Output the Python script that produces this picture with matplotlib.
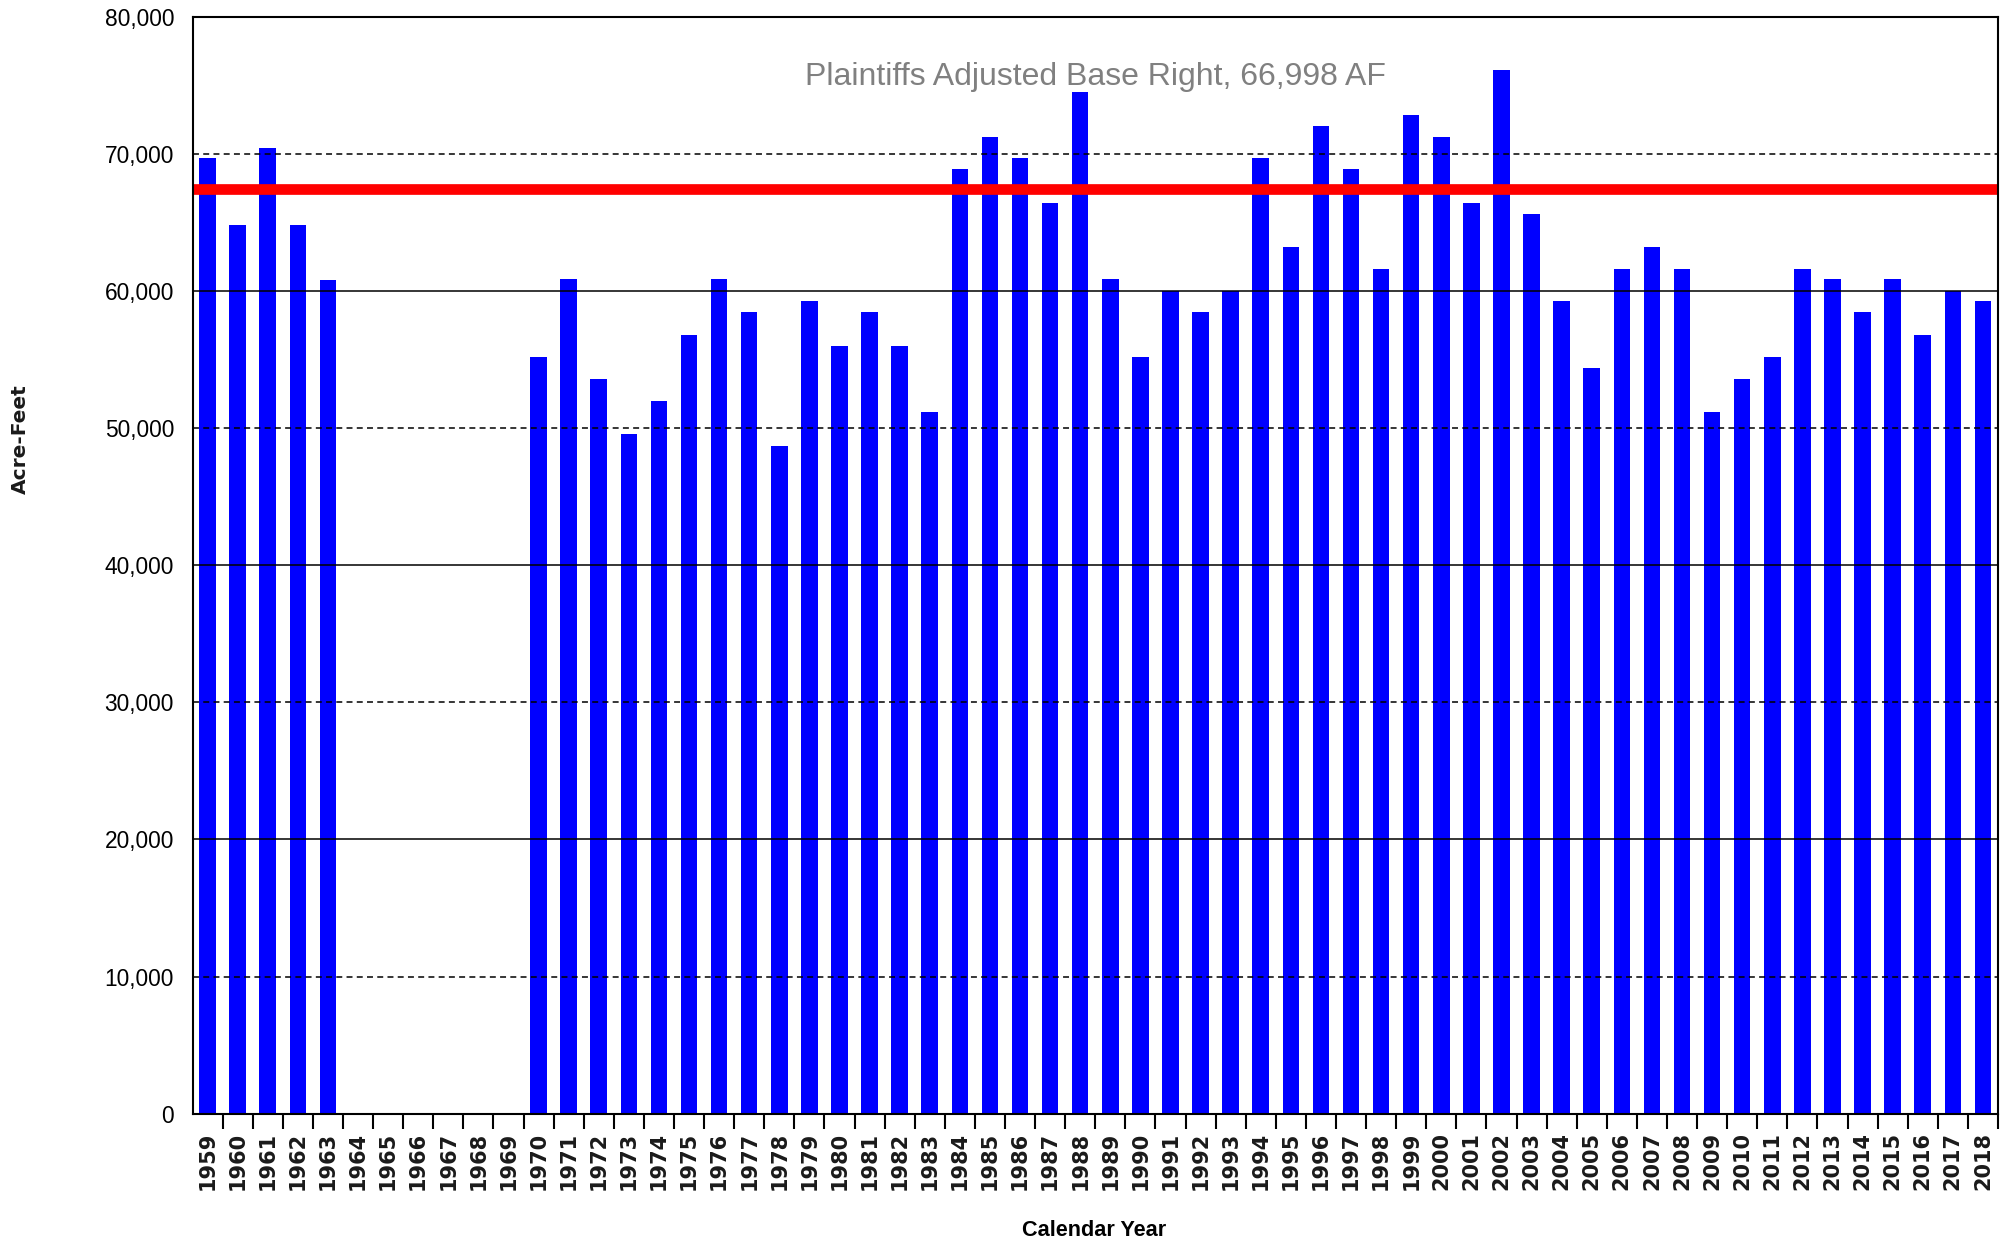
import numpy as np
import matplotlib
matplotlib.use('Agg')
import matplotlib.pyplot as plt
from matplotlib.ticker import FuncFormatter, FixedLocator
import matplotlib.transforms as mtransforms

# ---------------- data ----------------
years = list(range(1959, 2019))
acre_feet = [69700, 64800, 70400, 64800, 60800,
             None, None, None, None, None, None,
             55200, 60900, 53600, 49600, 52000, 56800, 60900, 58500, 48700, 59300,
             56000, 58500, 56000, 51200, 68900, 71200, 69700, 66400, 74500, 60900,
             55200, 60000, 58500, 60000, 69700, 63200, 72000, 68900, 61600, 72800,
             71200, 66400, 76100, 65600, 59300, 54400, 61600, 63200, 61600, 51200,
             53600, 55200, 61600, 60900, 58500, 60900, 56800, 60000, 59300]
base_right_level = 67400
base_right_label = "Plaintiffs Adjusted Base Right, 66,998 AF"
y_ticks = [0, 10000, 20000, 30000, 40000, 50000, 60000, 70000, 80000]
solid_grid = [20000, 40000, 60000]
dashed_grid = [10000, 30000, 50000, 70000]
x_label = "Calendar Year"
y_label = "Acre-Feet"

# ---------------- figure ----------------
W, H = 2012, 1243
fig = plt.figure(figsize=(W / 100, H / 100), dpi=100)
left, right, top, bottom = 192.5, 1998, 16.7, 1113.7
ax = fig.add_axes([left / W, 1 - bottom / H, (right - left) / W, (bottom - top) / H])

x = np.arange(len(years))
vals = np.array([np.nan if v is None else v for v in acre_feet], dtype=float)
mask = ~np.isnan(vals)
ax.bar(x[mask], vals[mask], width=0.55, color='#0000FF', zorder=2, linewidth=0)

for lvl in solid_grid:
    ax.axhline(lvl, color='black', linewidth=1.1, zorder=3)
for lvl in dashed_grid:
    ax.axhline(lvl, color='black', linewidth=1.1, linestyle=(0, (3.9, 2.8)), zorder=3)

ax.axhline(base_right_level, color='#FF0000', linewidth=7.7, zorder=4)

trans = mtransforms.blended_transform_factory(ax.transAxes, ax.transData)
ax.text(0.5, 75000, base_right_label, transform=trans, ha='center', va='baseline',
        fontsize=23, color='#808080', family=['Liberation Sans', 'DejaVu Sans'], zorder=5)

ax.set_xlim(-0.5, len(years) - 0.5)
ax.set_ylim(y_ticks[0], y_ticks[-1])

ax.yaxis.set_major_locator(FixedLocator(y_ticks))
ax.yaxis.set_major_formatter(FuncFormatter(lambda v, p: f"{v:,.0f}"))
ax.tick_params(axis='y', length=0, pad=13.3, labelsize=16.4)
for lab in ax.get_yticklabels():
    lab.set_family(['Liberation Sans', 'DejaVu Sans'])

ax.set_xticks(x)
ax.set_xticklabels([str(y) for y in years], rotation=90, fontsize=15,
                   fontweight='bold', family=['DejaVu Sans'], color='#1a1a1a')
ax.tick_params(axis='x', which='major', length=0, pad=13)
ax.set_xticks(np.arange(len(years)) + 0.5, minor=True)
ax.tick_params(axis='x', which='minor', length=10.8, width=1.5, direction='out', color='black')

for s in ax.spines.values():
    s.set_linewidth(1.5)
    s.set_color('black')
    s.set_zorder(6)

fig.text(1094 / W, 1 - 1230 / H, x_label, ha='center', va='center', fontsize=15.6,
         fontweight='bold', family=['Liberation Sans', 'DejaVu Sans'])
fig.text(20.5 / W, 1 - 439 / H, y_label, ha='center', va='center', rotation=90,
         fontsize=14.5, fontweight='bold', family=['DejaVu Sans'], color='#1a1a1a')

fig.savefig('out.png', dpi=100)
